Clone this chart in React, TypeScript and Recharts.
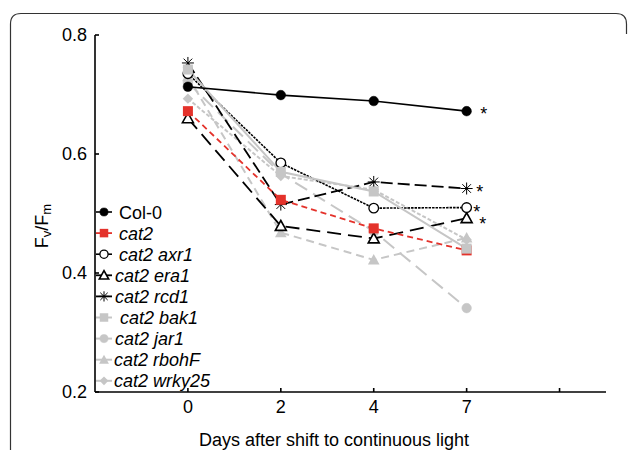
import React from 'react';
import { LineChart, Line, XAxis, YAxis, Legend } from 'recharts';

// ---- data ----
const dayLabels = ['0', '2', '4', '7', ''];
const dayIndex = [0, 1, 2, 3];
const yTicks = [0.2, 0.4, 0.6, 0.8];

const col0 = [0.713, 0.699, 0.689, 0.672];
const cat2 = [0.672, 0.523, 0.475, 0.438];
const axr1 = [0.735, 0.585, 0.509, 0.51];
const era1 = [0.66, 0.479, 0.458, 0.492];
const rcd1 = [0.753, 0.515, 0.553, 0.542];
const bak1 = [0.742, 0.57, 0.537, 0.441];
const jar1 = [0.72, 0.567, 0.47, 0.341];
const rbohF = [0.73, 0.468, 0.422, 0.459];
const wrky25 = [0.693, 0.563, 0.54, 0.456];

const FONT = '"Liberation Sans", Arial, Helvetica, sans-serif';
const GRAY = '#c6c6c6';
const RED = '#e4322b';

type Def = {
  key: string;
  name: string;
  values: number[];
  color: string;
  dash?: string;
  width: number;
  marker: string;
  italic: boolean;
  star?: { dx: number; dy: number };
  legendTextX: number;
};

const defs: Def[] = [
  { key: 'col0', name: 'Col-0', values: col0, color: '#000', width: 1.6, marker: 'circle', italic: false, star: { dx: 17, dy: 9 }, legendTextX: 24 },
  { key: 'cat2', name: 'cat2', values: cat2, color: RED, dash: '6 4', width: 1.8, marker: 'square', italic: true, legendTextX: 24 },
  { key: 'axr1', name: 'cat2 axr1', values: axr1, color: '#000', dash: '2.5 1', width: 1.6, marker: 'openCircle', italic: true, star: { dx: 10, dy: 10 }, legendTextX: 24 },
  { key: 'era1', name: 'cat2 era1', values: era1, color: '#000', dash: '14 7', width: 1.8, marker: 'openTriangle', italic: true, star: { dx: 16, dy: 12 }, legendTextX: 20 },
  { key: 'rcd1', name: 'cat2 rcd1', values: rcd1, color: '#000', dash: '12 5', width: 1.8, marker: 'asterisk', italic: true, star: { dx: 13, dy: 9 }, legendTextX: 20 },
  { key: 'bak1', name: 'cat2 bak1', values: bak1, color: GRAY, width: 2, marker: 'square', italic: true, legendTextX: 25 },
  { key: 'jar1', name: 'cat2 jar1', values: jar1, color: GRAY, dash: '14 7', width: 2, marker: 'circle', italic: true, legendTextX: 20 },
  { key: 'rbohF', name: 'cat2 rbohF', values: rbohF, color: GRAY, dash: '8 5', width: 2, marker: 'triangle', italic: true, legendTextX: 19 },
  { key: 'wrky25', name: 'cat2 wrky25', values: wrky25, color: GRAY, dash: '4 2', width: 2, marker: 'diamond', italic: true, legendTextX: 19 },
];

const drawOrder = ['wrky25', 'rbohF', 'jar1', 'era1', 'axr1', 'rcd1', 'cat2', 'bak1', 'col0'];

const data = dayIndex.map((d, i) => {
  const row: Record<string, number> = { x: d };
  defs.forEach((s) => {
    row[s.key] = s.values[i];
  });
  return row;
});

function Marker({ type, cx, cy, color, s = 1 }: { type: string; cx: number; cy: number; color: string; s?: number }) {
  if (cx == null || cy == null) return null;
  switch (type) {
    case 'circle':
      return <circle cx={cx} cy={cy} r={4.8 * s} fill={color} stroke={color} strokeWidth={0.5} />;
    case 'openCircle':
      return <circle cx={cx} cy={cy} r={4.8 * s} fill="#fff" stroke="#000" strokeWidth={1.3} />;
    case 'square':
      return <rect x={cx - 5 * s} y={cy - 5 * s} width={10 * s} height={10 * s} fill={color} />;
    case 'openTriangle': {
      const r = 5.5 * s;
      return (
        <polygon
          points={`${cx},${cy - r} ${cx + r},${cy + r * 0.8} ${cx - r},${cy + r * 0.8}`}
          fill="#fff"
          stroke="#000"
          strokeWidth={1.6}
        />
      );
    }
    case 'triangle': {
      const r = 5.8 * s;
      return <polygon points={`${cx},${cy - r} ${cx + r},${cy + r * 0.8} ${cx - r},${cy + r * 0.8}`} fill={color} />;
    }
    case 'diamond': {
      const r = 5.2 * s;
      return <polygon points={`${cx},${cy - r} ${cx + r},${cy} ${cx},${cy + r} ${cx - r},${cy}`} fill={color} />;
    }
    case 'asterisk': {
      const r = 6 * s;
      const d = r * 0.72;
      return (
        <g stroke="#000" strokeWidth={1}>
          <line x1={cx - r} y1={cy} x2={cx + r} y2={cy} />
          <line x1={cx} y1={cy - r} x2={cx} y2={cy + r} />
          <line x1={cx - d} y1={cy - d} x2={cx + d} y2={cy + d} />
          <line x1={cx - d} y1={cy + d} x2={cx + d} y2={cy - d} />
        </g>
      );
    }
    default:
      return null;
  }
}

function LegendBox() {
  const rowH = 21.1;
  return (
    <svg width={150} height={200} style={{ overflow: 'visible', display: 'block' }}>
      {defs.map((s, i) => {
        const y = 12 + i * rowH;
        return (
          <g key={s.key}>
            <line x1={1} y1={y} x2={17} y2={y} stroke={s.color} strokeWidth={s.width} />
            <Marker type={s.marker} cx={9} cy={y} color={s.color} s={0.85} />
            <text
              x={s.legendTextX}
              y={y + 6.5}
              fontFamily={FONT}
              fontSize={18}
              fontStyle={s.italic ? 'italic' : 'normal'}
              fill="#000"
            >
              {s.name}
            </text>
          </g>
        );
      })}
    </svg>
  );
}

const YLabel = () => (
  <text
    x={0}
    y={0}
    transform="translate(48, 226) rotate(-90)"
    textAnchor="middle"
    fontFamily={FONT}
    fontSize={18}
    fill="#000"
  >
    <tspan>F</tspan>
    <tspan fontSize={13} dy={3}>v</tspan>
    <tspan dy={-3}>/F</tspan>
    <tspan fontSize={13} dy={3}>m</tspan>
  </text>
);

const XLabel = () => (
  <text x={334} y={446} textAnchor="middle" fontFamily={FONT} fontSize={18} fill="#000">
    Days after shift to continuous light
  </text>
);

const axisStroke = { stroke: '#000', strokeWidth: 1.6 };

export default function App() {
  const byKey: Record<string, Def> = {};
  defs.forEach((d) => (byKey[d.key] = d));
  return (
    <div style={{ position: 'absolute', left: 0, top: 0, width: 629, height: 450, background: '#fff' }}>
      <svg width={629} height={450} style={{ position: 'absolute', left: 0, top: 0 }}>
        <path d="M10.5,450 L10.5,24 Q10.5,13.5 21,13.5 L616,13.5 Q626.5,13.5 626.5,24 L626.5,34" fill="none" stroke="#333" strokeWidth={1.2} />
      </svg>
      <div style={{ position: 'absolute', left: 0, top: 0 }}>
        <LineChart width={629} height={450} data={data} margin={{ top: 35, right: 23, bottom: 0, left: 35 }}>
          <XAxis
            xAxisId="bottom"
            dataKey="x"
            type="number"
            domain={[-1, 4.5]}
            ticks={[0, 1, 2, 3, 4]}
            tickFormatter={(v: number) => dayLabels[v] ?? ''}
            allowDataOverflow
            height={58}
            axisLine={axisStroke}
            tickLine={axisStroke}
            tickSize={-4}
            tickMargin={12}
            tick={{ fontFamily: FONT, fontSize: 18, fill: '#000' }}
            label={<XLabel />}
          />
          <XAxis
            xAxisId="top"
            dataKey="x"
            type="number"
            orientation="top"
            domain={[-1, 4.5]}
            ticks={[0, 1, 2, 3, 4]}
            allowDataOverflow
            height={0}
            axisLine={axisStroke}
            tickLine={axisStroke}
            tickSize={-4}
            tick={false}
          />
          <YAxis
            yAxisId="left"
            type="number"
            domain={[0.2, 0.8]}
            ticks={yTicks}
            allowDataOverflow
            width={60}
            axisLine={axisStroke}
            tickLine={axisStroke}
            tickSize={-4}
            tickMargin={12}
            tickFormatter={(v: number) => v.toFixed(1)}
            tick={{ fontFamily: FONT, fontSize: 18, fill: '#000' }}
            label={<YLabel />}
          />
          <YAxis
            yAxisId="right"
            orientation="right"
            type="number"
            domain={[0.2, 0.8]}
            ticks={yTicks}
            allowDataOverflow
            width={0}
            axisLine={axisStroke}
            tickLine={axisStroke}
            tickSize={-4}
            tick={false}
          />
          <Legend
            layout="horizontal"
            verticalAlign="middle"
            align="center"
            wrapperStyle={{ position: 'absolute', left: 95, top: 200, width: 150, height: 200 }}
            content={() => <LegendBox />}
          />
          {drawOrder.map((k) => {
            const s = byKey[k];
            return (
              <Line
                key={s.key}
                xAxisId="bottom"
                yAxisId="left"
                dataKey={s.key}
                name={s.name}
                type="linear"
                stroke={s.color}
                strokeWidth={s.width}
                strokeDasharray={s.dash}
                isAnimationActive={false}
                dot={(p: any) => <Marker key={`${s.key}-${p.index}`} type={s.marker} cx={p.cx} cy={p.cy} color={s.color} />}
                activeDot={false}
                label={
                  s.star
                    ? (p: any) =>
                        p.index === 3 ? (
                          <text
                            key={`star-${s.key}`}
                            x={p.x + s.star!.dx}
                            y={p.y + s.star!.dy}
                            textAnchor="middle"
                            fontFamily={FONT}
                            fontSize={18}
                            fill="#000"
                          >
                            *
                          </text>
                        ) : (
                          <g key={`star-${s.key}-${p.index}`} />
                        )
                    : false
                }
              />
            );
          })}
        </LineChart>
      </div>
    </div>
  );
}
